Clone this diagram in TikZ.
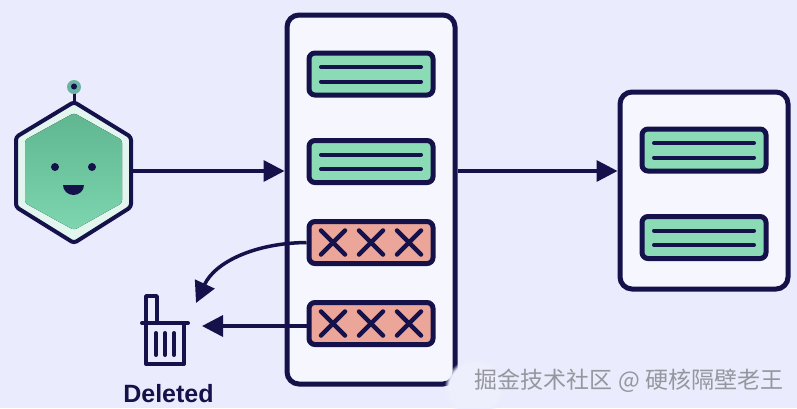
\documentclass[tikz,border=0pt]{standalone}
\usepackage{fontspec}
\setsansfont{Liberation Sans}
\newfontfamily\cjkwm{Noto Sans CJK SC}
\usetikzlibrary{arrows.meta,fadings}
\definecolor{canvas}{HTML}{EAEBFC}
\definecolor{navy}{HTML}{15114A}
\definecolor{panelbg}{HTML}{F6F7FE}
\definecolor{keepgreen}{HTML}{8CDBB7}
\definecolor{dropred}{HTML}{EBA599}
\definecolor{wmgray}{HTML}{96969F}
\definecolor{hubmint}{HTML}{E2F6EF}
\definecolor{hubtop}{HTML}{5FB690}
\definecolor{hubbottom}{HTML}{7DD6AF}
\definecolor{hubdot}{HTML}{6BB3A4}
\tikzset{
  panelbox/.style={draw=navy,fill=panelbg,line width=5pt,rounded corners=12pt},
  keeprow/.style={draw=navy,fill=keepgreen,line width=5pt,rounded corners=6pt,minimum width=124pt,minimum height=42pt},
  droprow/.style={keeprow,fill=dropred},
  flow/.style={draw=navy,line width=3.5pt,-{Triangle[length=21pt,width=21pt]}},
  rowline/.style={navy,line width=4pt,line cap=round},
  crossline/.style={navy,line width=4.5pt,line cap=round},
}
\begin{document}
\begin{tikzpicture}[x=1pt,y=-1pt]
  \useasboundingbox[fill=canvas] (0,0) rectangle (797,408);
  % panels and rows
  \node[panelbox,minimum width=168pt,minimum height=369pt] (buffer) at (371,199.5) {};
  \node[panelbox,minimum width=168pt,minimum height=197pt] (store) at (704,190.5) {};
  \node[keeprow] (keepA) at (371,74) {};
  \node[keeprow] (keepB) at (371,161.5) {};
  \node[droprow] (dropA) at (371,242.5) {};
  \node[droprow] (dropB) at (371,323.5) {};
  \node[keeprow] (savedA) at (704,150) {};
  \node[keeprow] (savedB) at (704,237.5) {};
  \foreach \r in {keepA,keepB,savedA,savedB} {
    \draw[rowline] ([xshift=-50pt,yshift=-7.5pt]\r.center) -- ([xshift=50pt,yshift=-7.5pt]\r.center);
    \draw[rowline] ([xshift=-50pt,yshift=7pt]\r.center) -- ([xshift=50pt,yshift=7pt]\r.center);
  }
  \foreach \r in {dropA,dropB} {
    \foreach \x in {-38,0,38} {
      \draw[crossline] ([xshift=\x*1pt-12pt,yshift=-12pt]\r.center) -- ([xshift=\x*1pt+12pt,yshift=12pt]\r.center);
      \draw[crossline] ([xshift=\x*1pt-12pt,yshift=12pt]\r.center) -- ([xshift=\x*1pt+12pt,yshift=-12pt]\r.center);
    }
  }
  % robot
  \draw[navy,line width=3pt] (74,90) -- (74,102);
  \fill[hubdot] (74,87) circle (7);
  \fill[navy] (74,86.5) circle (3);
  \draw[navy,fill=hubmint,line width=4pt,line join=round,rounded corners=3pt]
    (74,102) -- (131,137) -- (131,207) -- (74,243) -- (16,207) -- (16,137) -- cycle;
  \fill[top color=hubtop,bottom color=hubbottom,rounded corners=3pt]
    (74,113) -- (122,140) -- (122,203) -- (74,230) -- (25,203) -- (25,140) -- cycle;
  \fill[navy] (55,167) circle (4) (92,167) circle (4);
  \fill[navy] (84,185) -- (63,185) arc (180:0:10.5 and 10) -- cycle;
  % bin
  \draw[navy,line width=3.5pt,line join=round] (146,323) -- (146,296) -- (157,296) -- (157,323);
  \draw[navy,line width=4pt,line cap=round] (142,323) -- (188,323);
  \draw[navy,line width=4pt,line join=round] (146,323) -- (146,364) -- (184,364) -- (184,323);
  \foreach \x in {156,165,174} \draw[navy,line width=4pt,line cap=round] (\x,333) -- (\x,355);
  \node[font=\sffamily\bfseries\fontsize{25}{26}\selectfont,text=navy,inner sep=0pt] (binlabel) at (168.5,394) {Deleted};
  % connectors
  \coordinate (hubout) at (133,171);
  \coordinate (binA) at (196,303);
  \coordinate (binB) at (202,326);
  \draw[flow] (hubout) -- (hubout -| buffer.west);
  \draw[flow] (hubout -| buffer.east) -- (hubout -| store.west);
  \draw[flow] (dropA.west) .. controls (255,243) and (215,262) .. (binA);
  \draw[flow] (dropB.west |- binB) -- (binB);
  % watermark
  \fill[canvas!70!panelbg,path fading=circle with fuzzy edge 15 percent] (474,388) circle (30);
  \node[font=\cjkwm\fontsize{23}{24}\selectfont,text=wmgray,inner sep=0pt] (mark) at (629,381) {掘金技术社区 @ 硬核隔壁老王};
\end{tikzpicture}
\end{document}
